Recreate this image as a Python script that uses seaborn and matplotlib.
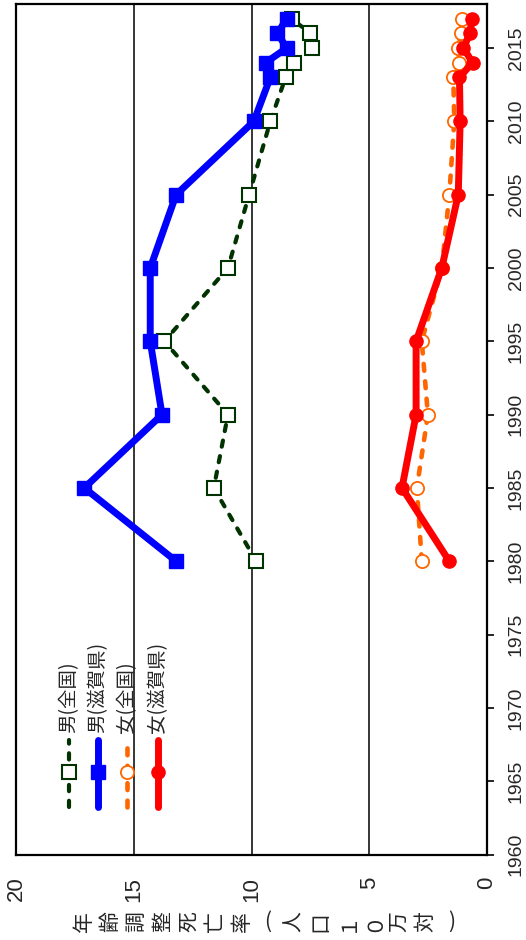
import pandas as pd
import seaborn as sns
import matplotlib.pyplot as plt

# data (rate per 100,000, age-adjusted)
years = [1980, 1985, 1990, 1995, 2000, 2005, 2010, 2013, 2014, 2015, 2016, 2017]
male_national = [9.8, 11.6, 11.0, 13.7, 11.0, 10.1, 9.2, 8.55, 8.2, 7.45, 7.5, 8.3]
male_shiga = [13.2, 17.1, 13.8, 14.3, 14.3, 13.2, 9.9, 9.2, 9.4, 8.5, 8.9, 8.5]
female_national = [2.77, 2.98, 2.51, 2.77, 1.92, 1.6, 1.39, 1.43, 1.17, 1.22, 1.1, 1.07]
female_shiga = [1.6, 3.61, 3.01, 3.01, 1.92, 1.22, 1.14, 1.17, 0.61, 1.0, 0.72, 0.65]

series_names = ['男(全国)', '男(滋賀県)', '女(全国)', '女(滋賀県)']
rate_ticks = [0, 5, 10, 15, 20]
year_ticks = list(range(1960, 2016, 5))
ylabel_chars = ['年', '齢', '調', '整', '死', '亡', '率', '(', '人', '口', '１', '０', '万', '対', ')']

df = pd.DataFrame({'year': years, series_names[0]: male_national, series_names[1]: male_shiga,
                   series_names[2]: female_national, series_names[3]: female_shiga})

sns.set_style('white')
plt.rcParams['font.family'] = ['Liberation Sans', 'Noto Sans CJK JP', 'DejaVu Sans']

styles = {
    '男(全国)': dict(color='#003300', lw=3, ls=(0, (1.5, 2.3)), marker='s', ms=10,
                   mfc='white', mec='#003300', mew=1.5),
    '男(滋賀県)': dict(color='#0000ff', lw=5, ls='-', marker='s', ms=10,
                    mfc='#0000ff', mec='#0000ff', mew=1),
    '女(全国)': dict(color='#ff6600', lw=3.3, ls=(0, (1.5, 2.3)), marker='o', ms=9.5,
                   mfc='white', mec='#ff6600', mew=1.3),
    '女(滋賀県)': dict(color='#ff0000', lw=5, ls='-', marker='o', ms=9.5,
                    mfc='#ff0000', mec='#ff0000', mew=1),
}

fig = plt.figure(figsize=(5.26, 9.40), dpi=100)
ax = fig.add_axes([16 / 526, 1 - 854.5 / 940, 471 / 526, 850.5 / 940])

for name in series_names:
    st = styles[name]
    sns.lineplot(data=df, x=name, y='year', ax=ax, sort=False, estimator=None, orient='y',
                 color=st['color'], linewidth=st['lw'], linestyle=st['ls'],
                 marker=st['marker'], markersize=st['ms'], markerfacecolor=st['mfc'],
                 markeredgecolor=st['mec'], markeredgewidth=st['mew'],
                 dash_capstyle='round', solid_capstyle='round')

# axes: rate runs right-to-left, years bottom-to-top (chart is turned on its side)
ax.set_xlim(20, 0)
ax.set_ylim(1960, 2018)
ax.set_xticks(rate_ticks)
ax.set_xticklabels([str(t) for t in rate_ticks], rotation=90, fontsize=16)
ax.tick_params(axis='x', length=0, pad=16)
ax.yaxis.tick_right()
ax.set_yticks(year_ticks)
ax.set_yticklabels([str(t) for t in year_ticks], rotation=90, va='center', fontsize=14)
ax.tick_params(axis='y', right=True, length=5, width=1.2, color='black', pad=10)
ax.set_xlabel('')
ax.set_ylabel('')
ax.grid(axis='x', color='black', linewidth=1.1)
ax.grid(axis='y', visible=False)
for sp in ax.spines.values():
    sp.set_color('black')
    sp.set_linewidth(1.6)

# legend drawn by hand, vertical entries
leg_x = [69, 98, 127, 158]
for px, name in zip(leg_x, series_names):
    st = styles[name]
    xa = (px - 16) / 471
    ya = [(854.5 - 807) / 850.5, (854.5 - 772) / 850.5, (854.5 - 740) / 850.5]
    ax.plot([xa, xa, xa], ya, transform=ax.transAxes, clip_on=False,
            color=st['color'], lw=st['lw'], ls=st['ls'], marker=st['marker'],
            markevery=[1], ms=st['ms'], mfc=st['mfc'], mec=st['mec'], mew=st['mew'],
            dash_capstyle='round', solid_capstyle='round')
    ax.text(xa, (854.5 - 733) / 850.5, name, transform=ax.transAxes, rotation=90,
            ha='center', va='bottom', fontsize=14,
            family=['Noto Sans CJK JP', 'DejaVu Sans'])

# y label written character by character, turned like the rest
n = len(ylabel_chars)
for i, ch in enumerate(ylabel_chars):
    px = 84 + i * (452 - 84) / (n - 1)
    rot = 0 if ch in '()' else 90
    fig.text(px / 526, 1 - 922 / 940, ch, rotation=rot, ha='center', va='center',
             fontsize=15, family=['Noto Sans CJK JP', 'DejaVu Sans'])

fig.savefig('out.png', dpi=100)
